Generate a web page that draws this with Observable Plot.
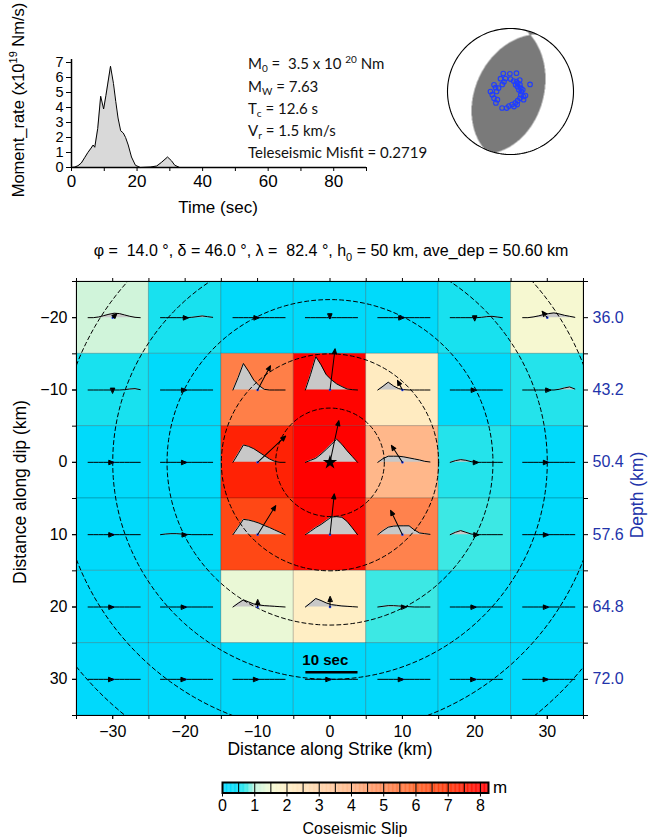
<!DOCTYPE html>
<html>
<head>
<meta charset="utf-8">
<script src="https://cdn.jsdelivr.net/npm/d3@7"></script>
<script src="https://cdn.jsdelivr.net/npm/@observablehq/plot@0.6"></script>
<style>
  html, body { margin: 0; padding: 0; background: #fff; }
  #page { position: relative; width: 649px; height: 837px; overflow: hidden; font-family: "Liberation Sans", Arial, sans-serif; color: #000; }
  .t { position: absolute; white-space: nowrap; line-height: 1; }
  .info { font-family: Lato, "Open Sans", sans-serif; font-size: 15px; color: #111; }
  .info sub, .info sup { font-size: 10px; line-height: 0; }
  .info sub { vertical-align: -3px; }
  .info sup { vertical-align: 6px; }
  svg { overflow: visible; }
</style>
</head>
<body>
<div id="page"></div>
<script>
// ------------------------------------------------------------------ DATA
// Moment rate function (time in s, rate in 1e19 Nm/s)
const momentTime = [0,1,2,3,4,5,6,6.6,7.1,8,8.9,9.8,10.5,11.9,12.8,13.5,14.2,15,15.8,16.5,17.3,18.3,19.5,21,24,26,27.5,29.3,30.5,31.5,33,90];
const momentRate = [0,0.03,0.12,0.3,0.65,1.0,1.3,1.5,1.35,2.6,4.75,3.9,4.8,6.75,5.6,4.4,3.3,2.45,2.3,2.0,1.5,0.7,0.15,0,0.03,0.1,0.35,0.7,0.45,0.15,0,0];
const momentXTicks = [0,10,20,30,40,50,60,70,80,90];
const momentYTicks = [0,1,2,3,4,5,6,7];

// Focal mechanism
const mechStrike = 14.0, mechDip = 46.0, mechRake = 82.4;
// Teleseismic stations (azimuth, take-off angle in degrees)
const stationAz = [338,358,18,322,339,0,17,31,41,54,72,90,108,126,142,157,173,186,193,207,153,167,111,105,70,292,270,260,248,232,238,270,286,285,79,56,37,122,82,39,326,311];
const stationTakeoff = [25,23,25,21,18,16,14,15,14,15,14,14,14,15,15,16,17,19,22,24,19,20,18,20,27,23,26,24,23,24,20,18,16,20,11,11,11,20,16,19,15,14];

// Fault grid
const strikePos = [-30,-20,-10,0,10,20,30];
const dipPos = [-20,-10,0,10,20,30];
const depthLabels = ["36.0","43.2","50.4","57.6","64.8","72.0"];
const slip = [
  [1.15,0.6,0.25,0.2,0.25,0.6,1.6],
  [0.6,0.25,5.3,8.0,2.1,0.25,0.65],
  [0.2,0.25,7.4,8.2,3.9,0.65,0.2],
  [0.2,0.35,6.6,7.9,5.2,0.75,0.2],
  [0.2,0.2,1.4,2.0,0.75,0.2,0.2],
  [0.15,0.15,0.15,0.15,0.15,0.15,0.15]
];
const rake = [
  [45,0,0,-90,0,-90,129],
  [-90,0,62,83,117,0,0],
  [0,0,43,78,123,0,0],
  [0,0,58,84,116,0,0],
  [0,0,90,90,0,0,0],
  [0,0,0,0,0,0,0]
];
// subfault source time functions, sampled each second
const stfTime = [0,1,2,3,4,5,6,7,8,9,10];
const Z = [0,0,0,0,0,0,0,0,0,0,0];
const stfAmp = [
  [[0,0,0.2,0.6,1.0,1.3,1.2,0.8,0.4,0.1,0],[0,0,0,0,0,0,0.1,0.3,0.5,0.3,0.1],Z,Z,Z,[0,0,0,0,0,0,0.1,0.3,0.4,0.2,0],[0,0,0.2,0.5,0.9,1.2,1.4,1.1,0.7,0.4,0.1]],
  [[0,0,0,0,0,0,0,0.1,0.3,0.4,0.1],Z,[0,3.7,7.8,5.5,2.9,1.3,0.2,0,0,0,0],[0,4.6,9.8,7.4,4.5,3.0,1.8,1.0,0.3,0.1,0],[0,1.1,2.3,1.2,0.4,0.1,0,0,0,0,0],Z,[0,0,0,0,0,0,0,0.2,0.6,0.9,0.3]],
  [Z,Z,[0,2.5,5.1,4.7,4.0,3.0,2.0,1.0,0.3,0,0],[0,0.6,1.2,2.4,3.8,5.3,6.8,5.3,3.4,1.7,0],[0,1.1,1.8,1.8,1.8,1.6,1.3,1.0,0.7,0.3,0.1],[0,0.5,0.8,0.6,0.2,0,0,0,0,0,0],Z],
  [Z,[0,0.2,0.3,0.3,0.2,0.1,0,0,0,0,0],[0,2.2,4.5,4.3,3.9,3.4,2.7,2.1,1.4,0.7,0],[0,1.0,2.1,3.0,4.1,5.2,5.3,5.1,3.9,2.0,0],[0,1.2,2.2,2.5,2.6,2.6,2.6,1.4,0.5,0.3,0.1],[0,0.7,1.2,0.7,0.2,0,0,0,0,0,0],Z],
  [Z,Z,[0,1.1,2.1,1.5,0.9,0.6,0.4,0.3,0.2,0.1,0],[0,1.2,2.5,1.9,1.2,0.7,0.5,0.3,0.2,0.1,0],[0,0.2,0.4,0.4,0.3,0.2,0.1,0,0,0,0],Z,Z],
  [Z,Z,Z,Z,Z,Z,Z]
];
const contourRadii = [7.5,15,22.5,30,37.5,45];
const hypocenter = [{x: 0, y: 0}];
const stfScaleSeconds = 10;

// Slip colour scale
const slipTicks = [0,1,2,3,4,5,6,7,8];
const slipColorStops = [0,0.5,0.75,1.0,1.5,2,3,4,5,6,7,8,8.25];
const slipColors = ["#00d8ff","#00dcf6","#3ce8e4","#c0f2dc","#f4fad4","#ffeec4","#ffd4aa","#ffb486","#ff8a56","#ff6428","#ff3608","#ff0400","#ff0000"];

// ------------------------------------------------------------------ HELPERS
const deg = Math.PI / 180;
const font = "Liberation Sans, Arial, sans-serif";
const page = document.getElementById("page");
function place(el, left, top) {
  el.style.position = "absolute"; el.style.left = left + "px"; el.style.top = top + "px";
  page.appendChild(el);
}
function label(html, cx, cy, opts = {}) {
  const d = document.createElement("div");
  d.className = "t" + (opts.cls ? " " + opts.cls : "");
  d.innerHTML = html;
  d.style.left = cx + "px"; d.style.top = cy + "px";
  d.style.fontSize = (opts.size || 16) + "px";
  if (opts.color) d.style.color = opts.color;
  if (opts.weight) d.style.fontWeight = opts.weight;
  const ax = opts.align === "left" ? "0" : "-50%";
  d.style.transform = `translate(${ax},-50%)` + (opts.rotate ? " rotate(-90deg)" : "");
  page.appendChild(d);
}

// ------------------------------------------------------------------ MOMENT RATE
const mdata = momentTime.map((t, i) => ({t, v: momentRate[i]}));
const momentPlot = Plot.plot({
  width: 420, height: 225,
  marginLeft: 71, marginRight: 54, marginTop: 59, marginBottom: 58,
  x: {domain: [0, 90]},
  y: {domain: [0, 7.2]},
  style: {fontFamily: font, fontSize: "16px", color: "black", background: "transparent"},
  marks: [
    Plot.areaY(mdata, {x: "t", y: "v", fill: "#d9d9d9"}),
    Plot.lineY(mdata, {x: "t", y: "v", stroke: "black", strokeWidth: 1}),
    Plot.ruleY([0], {stroke: "black", strokeWidth: 1.5}),
    Plot.ruleX([0], {stroke: "black", strokeWidth: 1.5}),
    Plot.axisX(momentXTicks, {anchor: "bottom", tickSize: 4, tickPadding: 3, fontSize: 17, tickFormat: d => d % 20 === 0 ? String(d) : "", label: null}),
    Plot.axisY(momentYTicks, {anchor: "left", tickSize: 5, tickPadding: 3, fontSize: 14.5, label: null})
  ]
});
place(momentPlot, 0, 0);
label("Time (sec)", 218, 207, {size: 17});
label("Moment_rate (x10<sup style='font-size:11px'>19</sup> Nm/s)", 17, 100, {rotate: true, size: 16.5});

// info text
label("M<sub>0</sub>&nbsp;=&nbsp; 3.5 x 10 <sup>20</sup> Nm", 248, 63, {cls: "info", align: "left", size: 15});
label("M<sub>W</sub> = 7.63", 248, 86, {cls: "info", align: "left", size: 15});
label("T<sub>c</sub> = 12.6 s", 248, 108, {cls: "info", align: "left", size: 15});
label("V<sub>r</sub> = 1.5 km/s", 248, 130, {cls: "info", align: "left", size: 15});
label("Teleseismic Misfit = 0.2719", 248, 152, {cls: "info", align: "left", size: 15});

// ------------------------------------------------------------------ BEACHBALL
const phi = mechStrike * deg, del = mechDip * deg, lam = mechRake * deg;
const nrm = [-Math.sin(del) * Math.sin(phi), Math.sin(del) * Math.cos(phi), -Math.cos(del)];
const slv = [Math.cos(lam) * Math.cos(phi) + Math.cos(del) * Math.sin(lam) * Math.sin(phi),
             Math.cos(lam) * Math.sin(phi) - Math.cos(del) * Math.sin(lam) * Math.cos(phi),
             -Math.sin(lam) * Math.sin(del)];
function polarity(x, y) {
  const rho = Math.hypot(x, y);
  if (rho > 1) return 0;
  const inc = 2 * Math.asin(Math.min(1, rho / Math.SQRT2));
  const az = Math.atan2(x, y);
  const g = [Math.sin(inc) * Math.cos(az), Math.sin(inc) * Math.sin(az), Math.cos(inc)];
  const a = (nrm[0]*g[0] + nrm[1]*g[1] + nrm[2]*g[2]) * (slv[0]*g[0] + slv[1]*g[1] + slv[2]*g[2]);
  return a > 0 ? 1 : 0;
}
const rimPts = d3.range(0, 361, 2).map(a => ({x: Math.sin(a * deg), y: Math.cos(a * deg)}));
const stations = stationAz.map((az, i) => {
  const r = Math.SQRT2 * Math.sin(stationTakeoff[i] * deg / 2);
  return {x: r * Math.sin(az * deg), y: r * Math.cos(az * deg)};
});
const beach = Plot.plot({
  width: 150, height: 150, margin: 12,
  x: {domain: [-1, 1], axis: null},
  y: {domain: [-1, 1], axis: null},
  color: {type: "linear", domain: [0, 1], range: ["#ffffff", "#7a7a7a"]},
  style: {background: "transparent"},
  marks: [
    Plot.raster({fill: polarity, x1: -1, x2: 1, y1: -1, y2: 1, pixelSize: 0.5}),
    Plot.line(rimPts, {x: "x", y: "y", stroke: "black", strokeWidth: 1.1}),
    Plot.dot(stations, {x: "x", y: "y", r: 2.3, stroke: "#1f3dff", strokeWidth: 1.1, fill: "none"})
  ]
});
place(beach, 435, 16);

// ------------------------------------------------------------------ TITLE
label("φ&nbsp;=&nbsp;&nbsp;14.0 °, δ = 46.0 °, λ =&nbsp;&nbsp;82.4 °, h<sub style='font-size:11px'>0</sub> = 50 km, ave_dep = 50.60 km", 331, 253, {size: 16});

// ------------------------------------------------------------------ SLIP MAP
const stfStart = -3.4, stfKmPerSec = 0.72, stfKmPerUnit = 0.47;
const cells = [];
dipPos.forEach((y, i) => strikePos.forEach((x, j) => cells.push({x, y, slip: slip[i][j], rake: rake[i][j], stf: stfAmp[i][j]})));
const stfPts = cells.flatMap((c, k) => stfTime.map((t, m) => ({
  id: k, x: c.x + stfStart + t * stfKmPerSec, y0: c.y, y: c.y - c.stf[m] * stfKmPerUnit
})));
const circlePts = contourRadii.flatMap(r => d3.range(0, 361, 2).map(a => ({
  r, x: hypocenter[0].x + r * Math.cos(a * deg), y: hypocenter[0].y + r * Math.sin(a * deg)
})));
const arrowShape = {
  draw(context, l) {
    const h = 5, w = 2.1;
    context.moveTo(0, 0);
    context.lineTo(0, -Math.max(l - h * 0.6, 0));
    context.moveTo(0, -l);
    context.lineTo(-w, -l + h);
    context.lineTo(w, -l + h);
    context.closePath();
  }
};
const scaleBar = [{x1: strikePos[3] + stfStart, x2: strikePos[3] + stfStart + stfScaleSeconds * stfKmPerSec, y: dipPos[5]}];
const ticks5x = d3.range(-35, 36, 5), ticks5y = d3.range(-25, 36, 5);
const slipColor = {type: "linear", domain: slipColorStops, range: slipColors, clamp: true};

const main = Plot.plot({
  width: 649, height: 500,
  marginTop: 11, marginLeft: 76, marginRight: 66, marginBottom: 55,
  x: {domain: [-35, 35]},
  y: {domain: [-25, 35], reverse: true},
  color: slipColor,
  length: {type: "linear", domain: [0, 10], range: [0, 52]},
  style: {fontFamily: font, fontSize: "16px", color: "black", background: "transparent"},
  marks: [
    Plot.rect(cells, {x1: d => d.x - 5, x2: d => d.x + 5, y1: d => d.y - 5, y2: d => d.y + 5, fill: "slip", stroke: "#000", strokeOpacity: 0.18, strokeWidth: 1}),
    Plot.areaY(stfPts, {x: "x", y1: "y0", y2: "y", z: "id", fill: "#c8c8c8"}),
    Plot.line(stfPts, {x: "x", y: "y", z: "id", stroke: "black", strokeWidth: 1}),
    Plot.line(circlePts, {x: "x", y: "y", z: "r", stroke: "black", strokeWidth: 1, strokeDasharray: "4,3", clip: true}),
    Plot.dot(cells, {x: "x", y: "y", r: 1.3, fill: "#2a4bff"}),
    Plot.vector(cells, {x: "x", y: "y", length: "slip", rotate: d => 90 - d.rake, anchor: "start", shape: arrowShape, stroke: "black", fill: "black", strokeWidth: 1}),
    Plot.dot(hypocenter, {x: "x", y: "y", symbol: "star", r: 4.5, fill: "black"}),
    Plot.link(scaleBar, {x1: "x1", x2: "x2", y1: "y", y2: "y", dy: -7, stroke: "black", strokeWidth: 2.5}),
    Plot.text(scaleBar, {x: "x1", y: "y", text: () => stfScaleSeconds + " sec", dy: -19, dx: -3, textAnchor: "start", fontWeight: "bold", fontSize: 15}),
    Plot.frame({stroke: "black", strokeWidth: 1}),
    Plot.axisX(ticks5x, {anchor: "bottom", tickSize: 4, tickFormat: () => "", label: null}),
    Plot.axisX(strikePos, {anchor: "bottom", tickSize: 4, tickPadding: 6, label: null}),
    Plot.axisX(ticks5x, {anchor: "top", tickSize: 4, tickFormat: () => "", label: null}),
    Plot.axisY(ticks5y, {anchor: "left", tickSize: 4, tickFormat: () => "", label: null}),
    Plot.axisY(dipPos, {anchor: "left", tickSize: 4, tickPadding: 5, label: null}),
    Plot.axisY(ticks5y, {anchor: "right", tickSize: 4, tickFormat: () => "", label: null}),
    Plot.axisY(dipPos, {anchor: "right", tickSize: 0, tickPadding: 9, fill: "#2233aa", tickFormat: d => depthLabels[dipPos.indexOf(d)], label: null})
  ]
});
place(main, 0, 270);
label("Distance along Strike (km)", 330, 750, {size: 17.5});
label("Distance along dip (km)", 21, 492, {rotate: true, size: 17.5});
label("Depth (km)", 638, 495, {rotate: true, color: "#2233aa", size: 17.5});

// ------------------------------------------------------------------ COLOUR BAR
const slices = d3.range(0, 8.25, 0.025).map(v => ({v}));
const cbar = Plot.plot({
  width: 649, height: 50,
  marginLeft: 222, marginRight: 161, marginTop: 12, marginBottom: 27.5,
  x: {domain: [0, 8.25]},
  y: {domain: [0, 1], axis: null},
  color: slipColor,
  style: {fontFamily: font, fontSize: "16px", color: "black", background: "transparent"},
  marks: [
    Plot.rect(slices, {x1: "v", x2: d => Math.min(8.25, d.v + 0.03), y1: 0, y2: 1, fill: "v"}),
    Plot.ruleX(d3.range(0.5, 8.01, 0.5), {stroke: "black", strokeWidth: 1}),
    Plot.frame({stroke: "black", strokeWidth: 2}),
    Plot.axisX(slipTicks, {anchor: "bottom", tickSize: 4, tickPadding: 3, label: null})
  ]
});
place(cbar, 0, 770);
label("m", 500, 787, {size: 17});
label("Coseismic Slip", 355, 829);
</script>
</body>
</html>
